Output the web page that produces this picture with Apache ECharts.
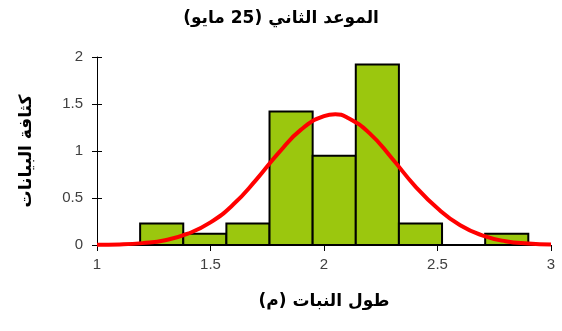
<!DOCTYPE html>
<html>
<head>
<meta charset="utf-8">
<script src="https://cdn.jsdelivr.net/npm/echarts@6/dist/echarts.min.js"></script>
<style>
  html, body { margin: 0; padding: 0; background: #fff; }
  #chart { width: 562px; height: 331px; }
</style>
</head>
<body>
<div id="chart"></div>
<script>
// histogram bins (plant height, m) and density
var binEdges = [1.19, 1.38, 1.57, 1.76, 1.95, 2.14, 2.33, 2.52, 2.71, 2.90];
var densities = [0.23, 0.12, 0.23, 1.42, 0.95, 1.92, 0.23, 0, 0.12];
// fitted normal curve
var curveX = [1.0, 1.1, 1.2, 1.3, 1.4, 1.5, 1.6, 1.7, 1.8, 1.9, 2.0, 2.05, 2.1, 2.2, 2.3, 2.4, 2.5, 2.6, 2.7, 2.8, 2.9, 3.0];
var curveY = [0.002, 0.006, 0.02, 0.05, 0.12, 0.24, 0.43, 0.69, 0.98, 1.23, 1.37, 1.39, 1.36, 1.19, 0.92, 0.63, 0.39, 0.21, 0.10, 0.04, 0.016, 0.005];

var fontAr = "'DejaVu Sans', 'Noto Sans', sans-serif";
var fontNum = "'Liberation Sans', Arial, sans-serif";
var RLM = '\u200F';

var myChart = echarts.init(document.getElementById('chart'));

var bins = densities.map(function (d, i) {
  return [binEdges[i], binEdges[i + 1], d];
});
var curve = curveX.map(function (x, i) { return [x, curveY[i]]; });

var option = {
  backgroundColor: '#fff',
  animation: false,
  title: {
    text: RLM + 'الموعد الثاني (25 مايو)' + RLM,
    left: 'center',
    top: 5,
    textStyle: { fontFamily: fontAr, fontSize: 17, fontWeight: 'bold', color: '#000' }
  },
  grid: { left: 97, right: 11, top: 57, bottom: 86 },
  xAxis: {
    type: 'value',
    min: 1,
    max: 3,
    interval: 0.5,
    name: RLM + 'طول النبات (م)' + RLM,
    nameLocation: 'middle',
    nameGap: 48,
    nameTextStyle: { fontFamily: fontAr, fontSize: 17, fontWeight: 'bold', color: '#000' },
    axisLine: { show: true, onZero: false, lineStyle: { color: '#000', width: 1 } },
    axisTick: { show: true, length: 6, lineStyle: { color: '#000' } },
    axisLabel: { fontFamily: fontNum, fontSize: 15, color: '#404040', margin: 12 },
    splitLine: { show: false }
  },
  yAxis: [
    {
      type: 'value',
      min: 0,
      max: 2,
      interval: 0.5,
      name: RLM + 'كثافة البيانات' + RLM,
      nameLocation: 'middle',
      nameGap: 62,
      nameRotate: 90,
      nameTextStyle: { fontFamily: fontAr, fontSize: 17, fontWeight: 'bold', color: '#000' },
      axisLine: { show: true, lineStyle: { color: '#000', width: 1 } },
      axisTick: { show: true, length: 5, lineStyle: { color: '#000' } },
      axisLabel: { fontFamily: fontNum, fontSize: 15, color: '#404040', margin: 14 },
      splitLine: { show: false }
    },
    {
      // inner half of the crossing ticks
      type: 'value',
      position: 'left',
      min: 0,
      max: 2,
      interval: 0.5,
      axisLine: { show: false },
      axisTick: { show: true, inside: true, length: 5, lineStyle: { color: '#000' } },
      axisLabel: { show: false },
      splitLine: { show: false }
    }
  ],
  series: [
    {
      type: 'custom',
      data: bins,
      encode: { x: [0, 1], y: 2 },
      renderItem: function (params, api) {
        var p0 = api.coord([api.value(0), 0]);
        var p1 = api.coord([api.value(1), api.value(2)]);
        return {
          type: 'rect',
          shape: { x: p0[0], y: p1[1], width: p1[0] - p0[0], height: p0[1] - p1[1] },
          style: { fill: '#9BC70E', stroke: '#000', lineWidth: 2 }
        };
      },
      z: 2
    },
    {
      type: 'line',
      data: curve,
      smooth: true,
      showSymbol: false,
      lineStyle: { color: '#FF0000', width: 4 },
      z: 3
    }
  ]
};

myChart.setOption(option);
</script>
</body>
</html>
